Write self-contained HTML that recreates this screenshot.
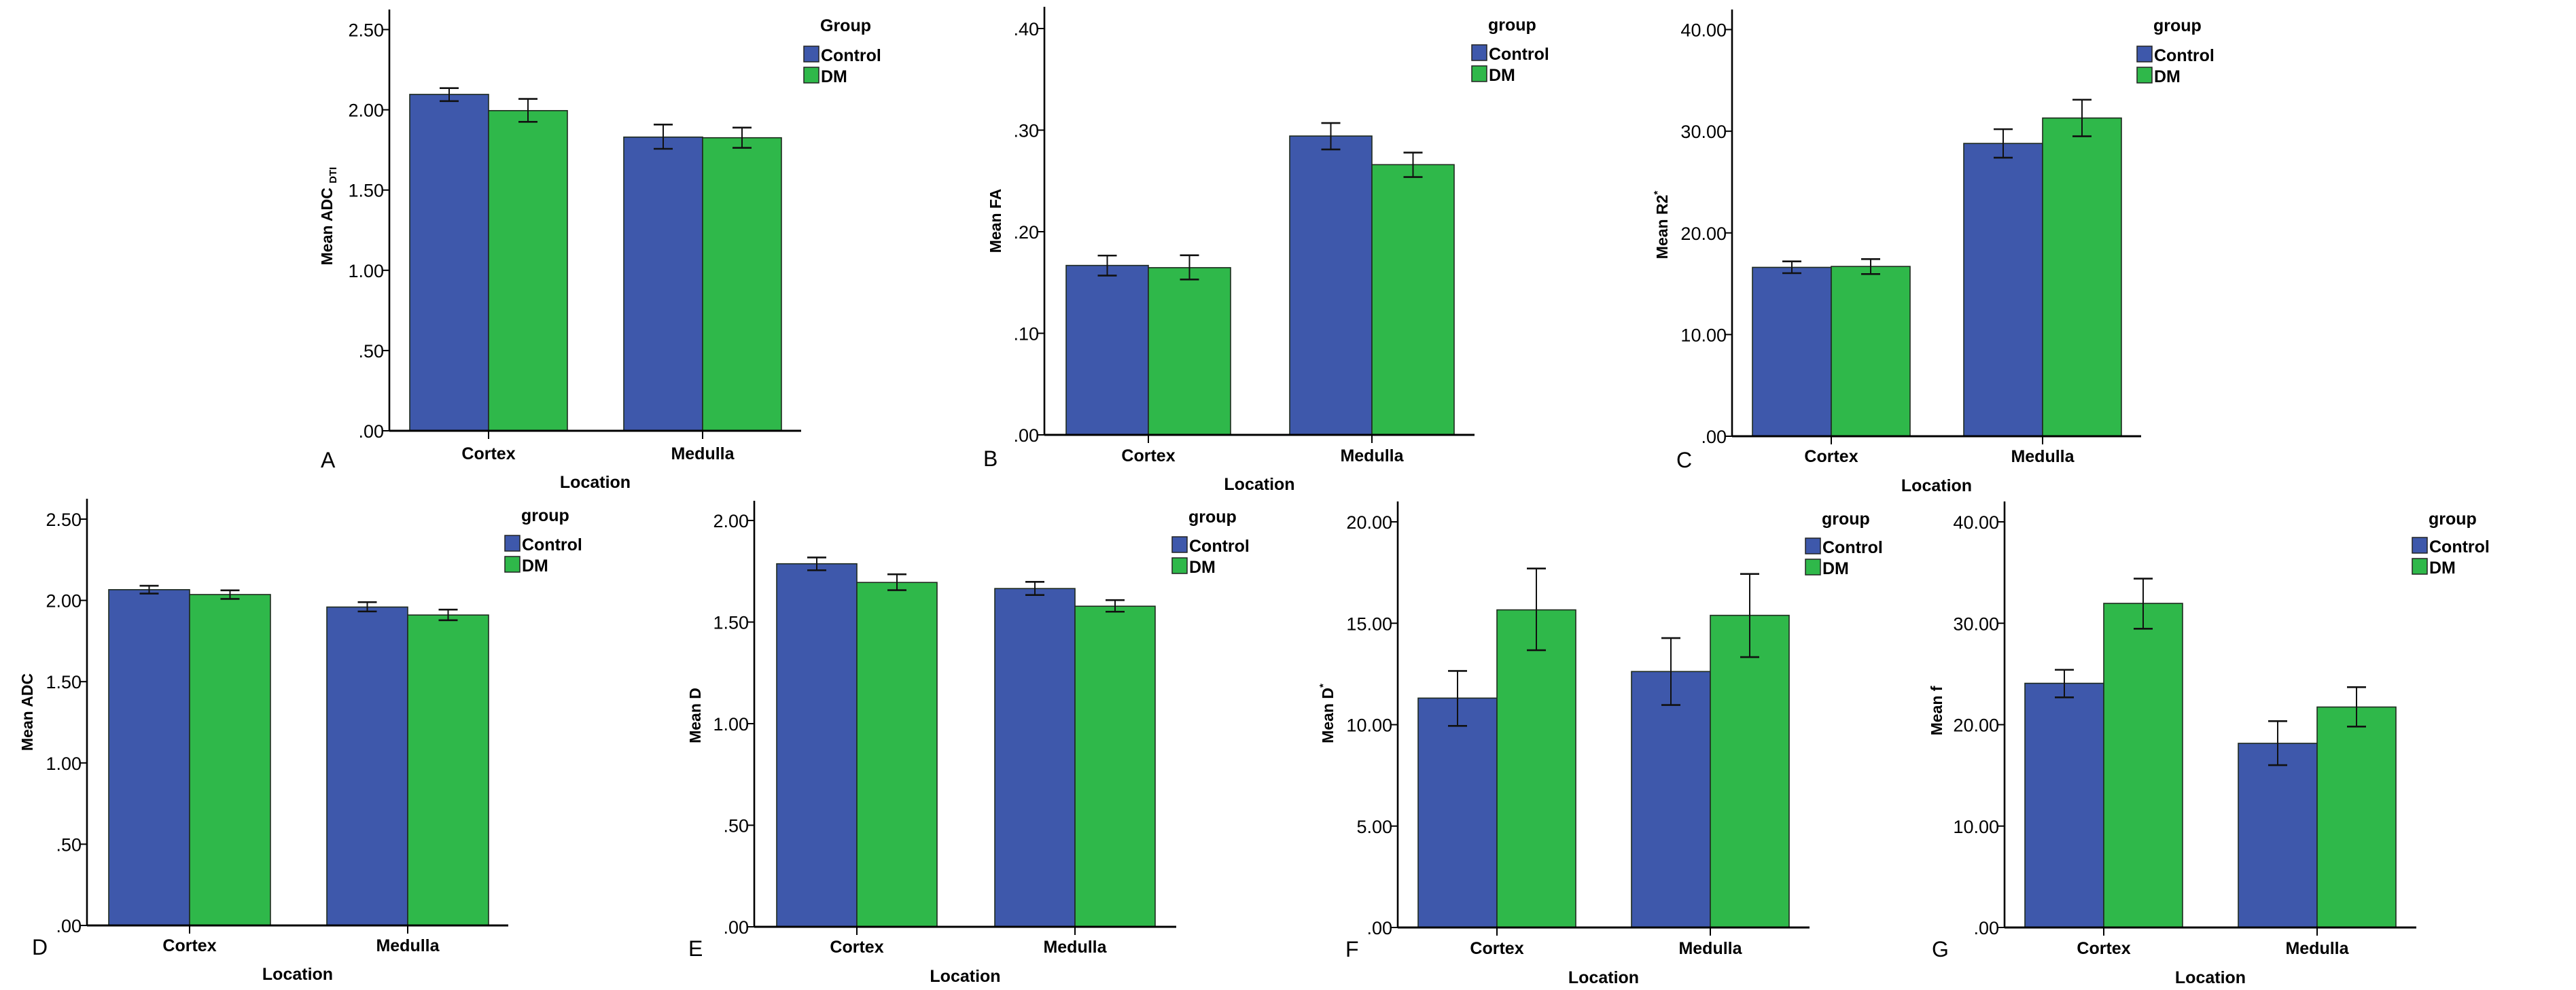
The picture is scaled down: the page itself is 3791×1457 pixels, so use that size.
<!DOCTYPE html>
<html><head><meta charset="utf-8"><style>
html,body{margin:0;padding:0;background:#fff;}
svg{display:block;font-family:"Liberation Sans",Arial,sans-serif;}
</style></head>
<body>
<svg id="fig" width="3791" height="1457" viewBox="0 0 3791 1457" xmlns="http://www.w3.org/2000/svg"></svg>
<script>
// ---- data ----
const categories = ["Cortex", "Medulla"];
const groups = ["Control", "DM"];
// A: Mean ADC DTI
const aTicks = [0, 0.5, 1.0, 1.5, 2.0, 2.5];
const aTickLabels = [".00", ".50", "1.00", "1.50", "2.00", "2.50"];
const aControl = [2.096, 1.830];
const aDM = [1.995, 1.826];
const aControlLo = [2.054, 1.757];
const aControlHi = [2.135, 1.908];
const aDMLo = [1.925, 1.763];
const aDMHi = [2.068, 1.889];
// B: Mean FA
const bTicks = [0, 0.1, 0.2, 0.3, 0.4];
const bTickLabels = [".00", ".10", ".20", ".30", ".40"];
const bControl = [0.1668, 0.2942];
const bDM = [0.1646, 0.2660];
const bControlLo = [0.1568, 0.2810];
const bControlHi = [0.1765, 0.3070];
const bDMLo = [0.1530, 0.2538];
const bDMHi = [0.1768, 0.2779];
// C: Mean R2*
const cTicks = [0, 10, 20, 30, 40];
const cTickLabels = [".00", "10.00", "20.00", "30.00", "40.00"];
const cControl = [16.61, 28.8];
const cDM = [16.70, 31.3];
const cControlLo = [16.04, 27.4];
const cControlHi = [17.20, 30.2];
const cDMLo = [15.95, 29.5];
const cDMHi = [17.42, 33.1];
// D: Mean ADC
const dTicks = [0, 0.5, 1.0, 1.5, 2.0, 2.5];
const dTickLabels = [".00", ".50", "1.00", "1.50", "2.00", "2.50"];
const dControl = [2.066, 1.959];
const dDM = [2.036, 1.910];
const dControlLo = [2.042, 1.932];
const dControlHi = [2.090, 1.989];
const dDMLo = [2.009, 1.878];
const dDMHi = [2.062, 1.943];
// E: Mean D
const eTicks = [0, 0.5, 1.0, 1.5, 2.0];
const eTickLabels = [".00", ".50", "1.00", "1.50", "2.00"];
const eControl = [1.787, 1.665];
const eDM = [1.695, 1.578];
const eControlLo = [1.755, 1.633];
const eControlHi = [1.818, 1.698];
const eDMLo = [1.657, 1.551];
const eDMHi = [1.735, 1.608];
// F: Mean D*
const fTicks = [0, 5, 10, 15, 20];
const fTickLabels = [".00", "5.00", "10.00", "15.00", "20.00"];
const fControl = [11.31, 12.62];
const fDM = [15.66, 15.39];
const fControlLo = [9.94, 10.97];
const fControlHi = [12.65, 14.27];
const fDMLo = [13.67, 13.33];
const fDMHi = [17.70, 17.43];
// G: Mean f
const gTicks = [0, 10, 20, 30, 40];
const gTickLabels = [".00", "10.00", "20.00", "30.00", "40.00"];
const gControl = [24.08, 18.16];
const gDM = [31.96, 21.74];
const gControlLo = [22.69, 16.01];
const gControlHi = [25.41, 20.35];
const gDMLo = [29.46, 19.81];
const gDMHi = [34.40, 23.70];

// ---- layout (geometry only) ----
const NS = "http://www.w3.org/2000/svg";
const svg = document.getElementById("fig");
function mk(tag, attrs, parent) {
  const e = document.createElementNS(NS, tag);
  for (const k in attrs) e.setAttribute(k, attrs[k]);
  (parent || svg).appendChild(e);
  return e;
}
const BLUE = "#3e58ab", GREEN = "#2fb84a";

function panel(p) {
  const g = mk("g", {});
  
  
  const maxT = p.ticks[p.ticks.length - 1];
  const y = v => p.y0 + (p.yMax - p.y0) * v / maxT;
  const xc = i => p.bandStart + p.bandW * (i + 0.5);
  // bars
  const series = [[p.ctrl, p.ctrlLo, p.ctrlHi, BLUE, "control"], [p.dm, p.dmLo, p.dmHi, GREEN, "dm"]];
  series.forEach((s, si) => {
    categories.forEach((c, i) => {
      const x = si === 0 ? xc(i) - p.bw : xc(i);
      const r = mk("rect", {x: x, y: y(s[0][i]), width: p.bw, height: p.y0 - y(s[0][i]), fill: s[3], stroke: "#1e2a1e", "stroke-width": 1.6}, g);
      
      
    });
  });
  series.forEach((s, si) => {
    categories.forEach((c, i) => {
      const cx = si === 0 ? xc(i) - p.bw / 2 : xc(i) + p.bw / 2;
      const eg = mk("g", {stroke: "#111", "stroke-width": 2}, g);
      
      
      mk("line", {x1: cx, x2: cx, y1: y(s[1][i]), y2: y(s[2][i])}, eg);
      mk("line", {x1: cx - 14, x2: cx + 14, y1: y(s[1][i]), y2: y(s[1][i]), "stroke-width": 2.6}, eg);
      mk("line", {x1: cx - 14, x2: cx + 14, y1: y(s[2][i]), y2: y(s[2][i]), "stroke-width": 2.6}, eg);
    });
  });
  // axes
  const ya = mk("line", {x1: p.axisX, x2: p.axisX, y1: p.axisTop, y2: p.y0 + 1, stroke: "#000", "stroke-width": 2.6}, g);
  
  
  const xa = mk("line", {x1: p.axisX, x2: p.axisRight, y1: p.y0, y2: p.y0, stroke: "#000", "stroke-width": 3}, g);
  
  
  p.ticks.forEach((t, i) => {
    mk("line", {x1: p.axisX - 10, x2: p.axisX, y1: y(t), y2: y(t), stroke: "#000", "stroke-width": 2}, g);
    const tl = mk("text", {x: p.axisX - 8, y: y(t) + 10, "text-anchor": "end", "font-size": 27, fill: "#000"}, g);
    tl.textContent = p.tickLabels[i];
    
    
  });
  categories.forEach((c, i) => {
    mk("line", {x1: xc(i), x2: xc(i), y1: p.y0, y2: p.y0 + 12, stroke: "#000", "stroke-width": 2}, g);
    const ct = mk("text", {x: xc(i), y: p.catY + 9, "text-anchor": "middle", "font-size": 25, "font-weight": "bold"}, g);
    ct.textContent = c;
    
    
  });
  const lx = mk("text", {x: (p.axisX + p.axisRight) / 2, y: p.locY + 9, "text-anchor": "middle", "font-size": 25, "font-weight": "bold"}, g);
  lx.textContent = "Location";
  
  
  const yt = mk("text", {transform: "translate(" + (p.ytX + 8) + "," + p.ytY + ") rotate(-90)", "text-anchor": "middle", "font-size": 23, "font-weight": "bold"}, g);
  yt.innerHTML = p.ytitle;
  
  
  const lt = mk("text", {x: p.letterX, y: p.letterY, "font-size": 32}, g);
  lt.textContent = p.letter;
  
  
  // legend
  const lg = mk("g", {}, g);
  
  
  const ltt = mk("text", {x: p.legX + 24, y: p.legTitleY + 9, "font-size": 25, "font-weight": "bold"}, lg);
  ltt.textContent = p.legTitle;
  
  
  [[p.legC, BLUE], [p.legD, GREEN]].forEach((L, i) => {
    const sw = mk("rect", {x: p.legX, y: L[0], width: 22, height: 23, fill: L[1], stroke: "#222", "stroke-width": 1.5}, lg);
    
    
    const tx = mk("text", {x: p.legX + 25, y: L[0] + 22, "font-size": 25, "font-weight": "bold"}, lg);
    tx.textContent = groups[i];
    
    
  });
}

panel({letter: "A", ticks: aTicks, tickLabels: aTickLabels, ctrl: aControl, dm: aDM, ctrlLo: aControlLo, ctrlHi: aControlHi, dmLo: aDMLo, dmHi: aDMHi,
  axisX: 573, y0: 634, yMax: 43.5, axisTop: 14, axisRight: 1179, bandStart: 561.5, bandW: 315, bw: 116,
  catY: 667, locY: 709, ytX: 481, ytY: 318, ytitle: 'Mean ADC <tspan font-size="15" dy="6">DTI</tspan>',
  letterX: 472, letterY: 688, legX: 1183, legTitleY: 37, legTitle: "Group", legC: 68, legD: 99});
panel({letter: "B", ticks: bTicks, tickLabels: bTickLabels, ctrl: bControl, dm: bDM, ctrlLo: bControlLo, ctrlHi: bControlHi, dmLo: bDMLo, dmHi: bDMHi,
  axisX: 1537, y0: 640, yMax: 42, axisTop: 10, axisRight: 2170, bandStart: 1525.5, bandW: 329, bw: 121,
  catY: 670, locY: 712, ytX: 1465, ytY: 325, ytitle: 'Mean  FA',
  letterX: 1447, letterY: 686, legX: 2166, legTitleY: 36, legTitle: "group", legC: 66, legD: 97});
panel({letter: "C", ticks: cTicks, tickLabels: cTickLabels, ctrl: cControl, dm: cDM, ctrlLo: cControlLo, ctrlHi: cControlHi, dmLo: cDMLo, dmHi: cDMHi,
  axisX: 2549, y0: 642, yMax: 43.5, axisTop: 14, axisRight: 3151, bandStart: 2539.5, bandW: 311, bw: 116,
  catY: 671, locY: 714, ytX: 2446, ytY: 331, ytitle: 'Mean  R2<tspan font-size="15" dy="-10">*</tspan>',
  letterX: 2467, letterY: 688, legX: 3145, legTitleY: 37, legTitle: "group", legC: 68, legD: 99});
panel({letter: "D", ticks: dTicks, tickLabels: dTickLabels, ctrl: dControl, dm: dDM, ctrlLo: dControlLo, ctrlHi: dControlHi, dmLo: dDMLo, dmHi: dDMHi,
  axisX: 128, y0: 1362, yMax: 764, axisTop: 734, axisRight: 748, bandStart: 118.5, bandW: 321, bw: 119,
  catY: 1391, locY: 1433, ytX: 40, ytY: 1048, ytitle: 'Mean ADC',
  letterX: 47, letterY: 1405, legX: 743, legTitleY: 758, legTitle: "group", legC: 788, legD: 819});
panel({letter: "E", ticks: eTicks, tickLabels: eTickLabels, ctrl: eControl, dm: eDM, ctrlLo: eControlLo, ctrlHi: eControlHi, dmLo: eDMLo, dmHi: eDMHi,
  axisX: 1110, y0: 1364, yMax: 766, axisTop: 737, axisRight: 1731, bandStart: 1100.5, bandW: 321, bw: 118,
  catY: 1393, locY: 1436, ytX: 1023, ytY: 1053, ytitle: 'Mean  D',
  letterX: 1013, letterY: 1407, legX: 1725, legTitleY: 760, legTitle: "group", legC: 790, legD: 821});
panel({letter: "F", ticks: fTicks, tickLabels: fTickLabels, ctrl: fControl, dm: fDM, ctrlLo: fControlLo, ctrlHi: fControlHi, dmLo: fDMLo, dmHi: fDMHi,
  axisX: 2057, y0: 1365, yMax: 768, axisTop: 738, axisRight: 2663, bandStart: 2046, bandW: 314, bw: 116,
  catY: 1395, locY: 1438, ytX: 1954, ytY: 1050, ytitle: 'Mean  D<tspan font-size="15" dy="-10">*</tspan>',
  letterX: 1980, letterY: 1408, legX: 2657, legTitleY: 763, legTitle: "group", legC: 792, legD: 823});
panel({letter: "G", ticks: gTicks, tickLabels: gTickLabels, ctrl: gControl, dm: gDM, ctrlLo: gControlLo, ctrlHi: gControlHi, dmLo: gDMLo, dmHi: gDMHi,
  axisX: 2950, y0: 1365, yMax: 768, axisTop: 738, axisRight: 3556, bandStart: 2939, bandW: 314, bw: 116,
  catY: 1395, locY: 1438, ytX: 2850, ytY: 1046, ytitle: 'Mean f',
  letterX: 2843, letterY: 1408, legX: 3550, legTitleY: 763, legTitle: "group", legC: 791, legD: 822});
</script>
</body></html>
